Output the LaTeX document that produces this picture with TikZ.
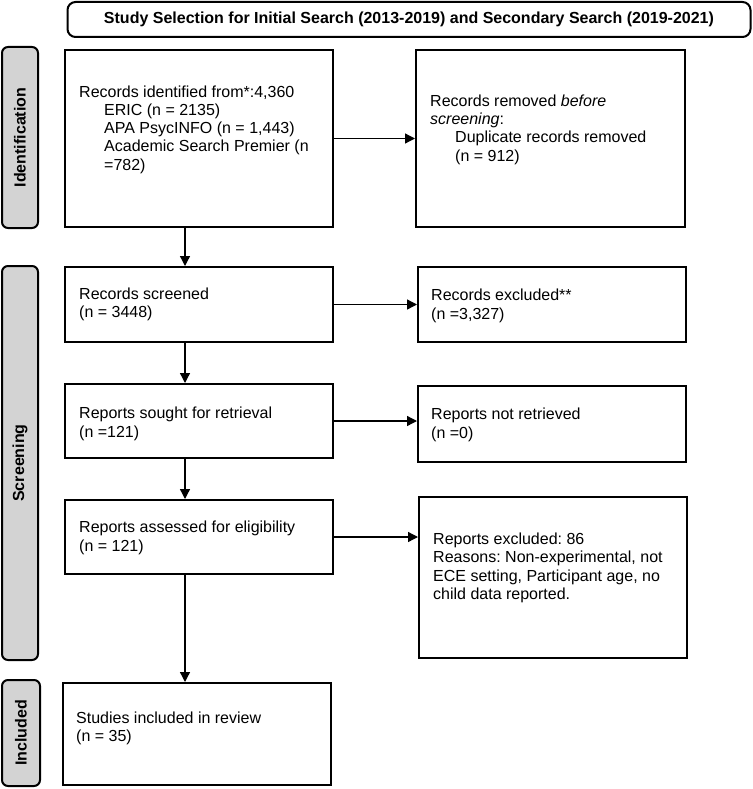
\documentclass[tikz,border=0pt]{standalone}
\usepackage{fontspec}
\setmainfont{Liberation Sans}
\usetikzlibrary{arrows.meta}
\definecolor{sidegray}{RGB}{211,211,211}
\frenchspacing

\begin{document}
\begin{tikzpicture}[x=1pt,y=-1pt,
	box/.style={draw,line width=2pt,inner sep=0pt},
	txt/.style={align=left,anchor=west,inner sep=0pt,font=\fontsize{16}{18.3}\selectfont},
	side/.style={draw,line width=2pt,fill=sidegray,rounded corners=6pt,rotate=90,minimum height=36pt,inner sep=0pt,font=\fontsize{16}{18.3}\selectfont\bfseries},
	flow/.style={line width=1.3pt,-{Triangle[length=10pt,width=10pt]}}]

	\useasboundingbox (0,0) rectangle (752,789);

	%title
	\node[draw,line width=2pt,rounded corners=8pt,minimum width=683pt,minimum height=35pt,inner sep=0pt,font=\fontsize{16}{18.3}\selectfont\bfseries] (title) at (409,19.5)
	{Study Selection for Initial Search (2013-2019) and Secondary Search (2019-2021)};

	%phases on the side
	\node[side,minimum width=181pt] (identside) at (20,137.5) {Identification};
	\node[side,minimum width=394pt] (screenside) at (20,463) {Screening};
	\node[side,minimum width=106pt,minimum height=38pt] (inclside) at (21,733) {Included};

	%identification
	\node[box,minimum width=268pt,minimum height=177pt] (ident) at (199,138.5) {};
	\node[txt] (identtext) at ([xshift=15pt,yshift=9pt]ident.west)
	{Records identified from*:4,360\\
	 \hspace*{25pt}ERIC (n = 2135)\\
	 \hspace*{25pt}APA PsycINFO (n = 1,443)\\
	 \hspace*{25pt}Academic Search Premier (n\\
	 \hspace*{25pt}=782)};

	\node[box,minimum width=269pt,minimum height=177pt] (removed) at (550.5,138.5) {};
	\node[txt] (removedtext) at ([xshift=15pt,yshift=9pt]removed.west)
	{Records removed \textit{before}\\
	 \textit{screening}:\\
	 \hspace*{25pt}Duplicate records removed\\
	 \hspace*{25pt}(n = 912)};

	%screening
	\node[box,minimum width=268pt,minimum height=75pt] (screened) at (199,304.5) {};
	\node[txt] (screenedtext) at ([xshift=15pt]screened.west)
	{Records screened\\(n = 3448)};

	\node[box,minimum width=268pt,minimum height=75pt] (excluded) at (552,304.5) {};
	\node[txt] (excludedtext) at ([xshift=14pt,yshift=-1.5pt]excluded.west)
	{Records excluded**\\(n =3,327)};

	\node[box,minimum width=268pt,minimum height=74pt] (sought) at (199,421) {};
	\node[txt] (soughttext) at ([xshift=15pt,yshift=-3pt]sought.west)
	{Reports sought for retrieval\\(n =121)};

	\node[box,minimum width=268pt,minimum height=76pt] (notretr) at (552,424) {};
	\node[txt] (notretrtext) at ([xshift=14pt,yshift=-1pt]notretr.west)
	{Reports not retrieved\\(n =0)};

	\node[box,minimum width=268pt,minimum height=74pt] (assessed) at (199,537) {};
	\node[txt] (assessedtext) at ([xshift=15pt,yshift=-1pt]assessed.west)
	{Reports assessed for eligibility\\(n = 121)};

	\node[box,minimum width=268pt,minimum height=161pt] (repexcl) at (553,577.5) {};
	\node[txt] (repexcltext) at ([xshift=15pt,yshift=9.5pt]repexcl.west)
	{Reports excluded: 86\\
	 Reasons: Non-experimental, not\\
	 ECE setting, Participant age, no\\
	 child data reported.};

	%included
	\node[box,minimum width=268pt,minimum height=102pt] (studies) at (197,734) {};
	\node[txt] (studiestext) at ([xshift=14pt,yshift=6pt]studies.west)
	{Studies included in review\\(n = 35)};

	%arrows
	\draw[flow] (ident) -- (removed);
	\draw[flow] ([xshift=-14pt]ident.south) -- ([xshift=-14pt]screened.north);
	\draw[flow] (screened) -- (excluded);
	\draw[flow] ([xshift=-14pt]screened.south) -- ([xshift=-14pt]sought.north);
	\draw[flow] (sought.east) -- (sought.east -| notretr.west);
	\draw[flow] ([xshift=-14pt]sought.south) -- ([xshift=-14pt]assessed.north);
	\draw[flow] (assessed.east) -- (assessed.east -| repexcl.west);
	\draw[flow] ([xshift=-14pt]assessed.south) -- ([xshift=-12pt]studies.north);

\end{tikzpicture}
\end{document}
